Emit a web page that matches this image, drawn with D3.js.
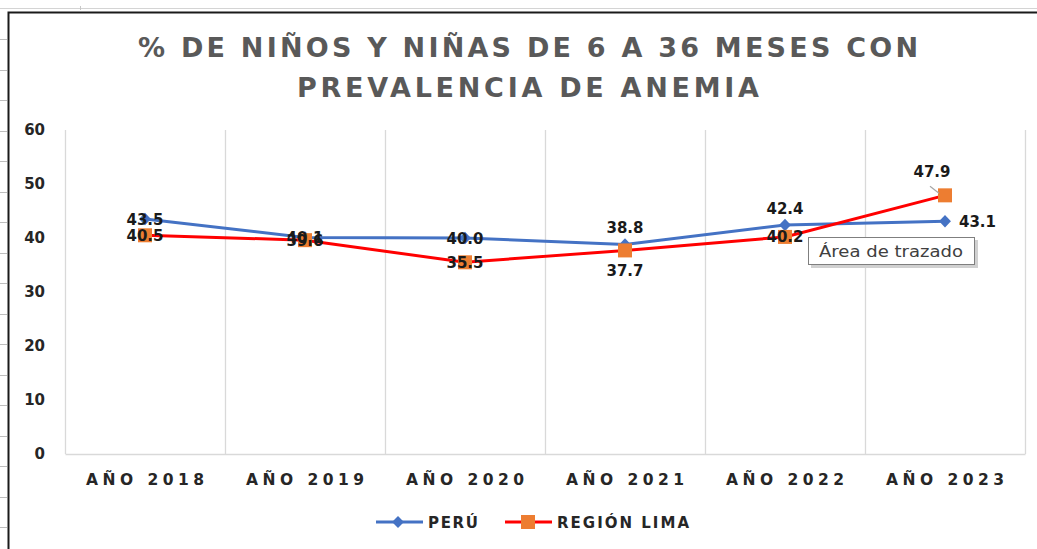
<!DOCTYPE html>
<html>
<head>
<meta charset="utf-8">
<script src="https://cdn.jsdelivr.net/npm/d3@7"></script>
<style>
  body { margin: 0; background: #fff; }
  svg { display: block; font-family: "DejaVu Sans", sans-serif; }
</style>
</head>
<body>
<svg width="1037" height="549"></svg>
<script>
// data
var years = ['AÑO 2018', 'AÑO 2019', 'AÑO 2020', 'AÑO 2021', 'AÑO 2022', 'AÑO 2023'];
var peru = [43.5, 40.1, 40.0, 38.8, 42.4, 43.1];
var lima = [40.5, 39.6, 35.5, 37.7, 40.2, 47.9];
var yTicks = [0, 10, 20, 30, 40, 50, 60];
var titleLines = ['% DE NIÑOS Y NIÑAS DE 6 A 36 MESES CON', 'PREVALENCIA DE ANEMIA'];
var seriesNames = ['PERÚ', 'REGIÓN LIMA'];
// where each data label sits relative to its point
var peruLabelAt = ['c', 'c', 'c', 'above', 'above', 'right'];
var limaLabelAt = ['c', 'c', 'c', 'below', 'c', 'above'];

var svg = d3.select('svg');

// spreadsheet edge behind the chart
svg.append('line').attr('x1', 0).attr('x2', 1037).attr('y1', 8.5).attr('y2', 8.5)
  .attr('stroke', '#d4d4d4').attr('stroke-width', 1);
svg.append('line').attr('x1', 80.5).attr('x2', 80.5).attr('y1', 6).attr('y2', 10)
  .attr('stroke', '#c8c8c8');
d3.range(39, 549, 30.5).forEach(function(y) {
  svg.append('line').attr('x1', 0).attr('x2', 7).attr('y1', Math.round(y) + 0.5).attr('y2', Math.round(y) + 0.5)
    .attr('stroke', '#bdbdbd');
});
// chart frame
svg.append('path').attr('d', 'M8.5,549 V12.5 H1037')
  .attr('fill', 'none').attr('stroke', '#1a1a1a').attr('stroke-width', 2);

// title
svg.selectAll('.title').data(titleLines).enter().append('text')
  .attr('class', 'title')
  .attr('x', 528)
  .attr('y', function(d, i) { return 57 + i * 40; })
  .attr('text-anchor', 'middle')
  .attr('textLength', function(d, i) { return i == 0 ? 780 : 462; })
  .attr('lengthAdjust', 'spacing')
  .attr('font-size', 27).attr('font-weight', 'bold').attr('fill', '#595959')
  .text(function(d) { return d; });

var x = d3.scaleBand().domain(years).range([65, 1025]);
var y = d3.scaleLinear().domain([0, 60]).range([454, 130]);
var cx = function(i) { return x(years[i]) + x.bandwidth() / 2; };

// vertical gridlines between categories
var gridX = years.map(function(d) { return x(d); }).concat([x.range()[1]]);
svg.selectAll('.grid').data(gridX).enter().append('line')
  .attr('x1', function(d) { return d + 0.5; }).attr('x2', function(d) { return d + 0.5; })
  .attr('y1', y(60)).attr('y2', y(0))
  .attr('stroke', '#d9d9d9').attr('stroke-width', 1.3);

// axes
var yAxis = svg.append('g').attr('transform', 'translate(65,0)')
  .call(d3.axisLeft(y).tickValues(yTicks).tickSize(0).tickPadding(20));
yAxis.select('.domain').remove();
yAxis.selectAll('text').attr('font-size', 15).attr('font-weight', 'bold').attr('fill', '#262626')
  .attr('font-family', '"DejaVu Sans", sans-serif');

var xAxis = svg.append('g').attr('transform', 'translate(0,' + y(0) + ')')
  .call(d3.axisBottom(x).tickSize(0).tickPadding(20));
xAxis.select('.domain').attr('stroke', '#d9d9d9').attr('stroke-width', 1.3);
xAxis.selectAll('text').attr('font-size', 15.5).attr('font-weight', 'bold').attr('fill', '#262626')
  .attr('font-family', '"DejaVu Sans", sans-serif')
  .attr('textLength', 118).attr('lengthAdjust', 'spacing');

// lines
var line = d3.line().x(function(d, i) { return cx(i); }).y(function(d) { return y(d); });
svg.append('path').datum(peru).attr('d', line)
  .attr('fill', 'none').attr('stroke', '#4472C4').attr('stroke-width', 3);
svg.append('path').datum(lima).attr('d', line)
  .attr('fill', 'none').attr('stroke', '#FF0000').attr('stroke-width', 3);

// markers
var diamond = d3.symbol().type(d3.symbolDiamond2).size(90);
svg.selectAll('.mp').data(peru).enter().append('path')
  .attr('d', diamond)
  .attr('transform', function(d, i) { return 'translate(' + cx(i) + ',' + y(d) + ') scale(1,1.05)'; })
  .attr('fill', '#4472C4');
svg.selectAll('.ml').data(lima).enter().append('rect')
  .attr('x', function(d, i) { return cx(i) - 7; })
  .attr('y', function(d) { return y(d) - 7; })
  .attr('width', 14).attr('height', 14)
  .attr('fill', '#ED7D31');

// leader line for 47.9
svg.append('line')
  .attr('x1', cx(5) - 15).attr('y1', y(lima[5]) - 9)
  .attr('x2', cx(5) - 6).attr('y2', y(lima[5]) - 2)
  .attr('stroke', '#a6a6a6').attr('stroke-width', 1.2);

// data labels
function labels(vals, where) {
  svg.selectAll(null).data(vals).enter().append('text')
    .attr('x', function(d, i) {
      if (where[i] == 'right') return cx(i) + 14;
      if (where[i] == 'above' && i == 5) return cx(i) - 13;
      return cx(i);
    })
    .attr('y', function(d, i) {
      var p = y(d);
      if (where[i] == 'above') return p - (i == 5 ? 18 : 11);
      if (where[i] == 'below') return p + 26;
      return p + 5.5;
    })
    .attr('text-anchor', function(d, i) { return where[i] == 'right' ? 'start' : 'middle'; })
    .attr('font-size', 15).attr('font-weight', 'bold').attr('fill', '#1a1a1a')
    .text(function(d) { return d.toFixed(1); });
}
labels(peru, peruLabelAt);
labels(lima, limaLabelAt);

// tooltip left on the screenshot
var tip = svg.append('g').attr('transform', 'translate(808,237)');
tip.append('rect').attr('x', 3).attr('y', 3).attr('width', 167).attr('height', 28)
  .attr('fill', '#d0d0d0');
tip.append('rect').attr('x', 0.5).attr('y', 0.5).attr('width', 166).attr('height', 27)
  .attr('fill', '#fff').attr('stroke', '#7f7f7f');
tip.append('text').attr('x', 11).attr('y', 20).attr('font-size', 15.5)
  .attr('font-family', '"DejaVu Sans", sans-serif').attr('fill', '#404040')
  .attr('textLength', 144).attr('lengthAdjust', 'spacingAndGlyphs')
  .text('Área de trazado');

// legend
var legend = svg.append('g').attr('transform', 'translate(0,522)');
var legX = [376, 505];
var legTxtLen = [50, 132];
var legColors = ['#4472C4', '#FF0000'];
seriesNames.forEach(function(name, i) {
  legend.append('line').attr('x1', legX[i]).attr('x2', legX[i] + 47)
    .attr('stroke', legColors[i]).attr('stroke-width', 3);
  if (i == 0) {
    legend.append('path').attr('d', diamond)
      .attr('transform', 'translate(' + (legX[i] + 22) + ',0)').attr('fill', '#4472C4');
  } else {
    legend.append('rect').attr('x', legX[i] + 16).attr('y', -7).attr('width', 14).attr('height', 14)
      .attr('fill', '#ED7D31');
  }
  legend.append('text').attr('x', legX[i] + 52).attr('y', 6)
    .attr('font-size', 15).attr('font-weight', 'bold').attr('fill', '#262626')
    .attr('textLength', legTxtLen[i]).attr('lengthAdjust', 'spacing')
    .text(name);
});
</script>
</body>
</html>
